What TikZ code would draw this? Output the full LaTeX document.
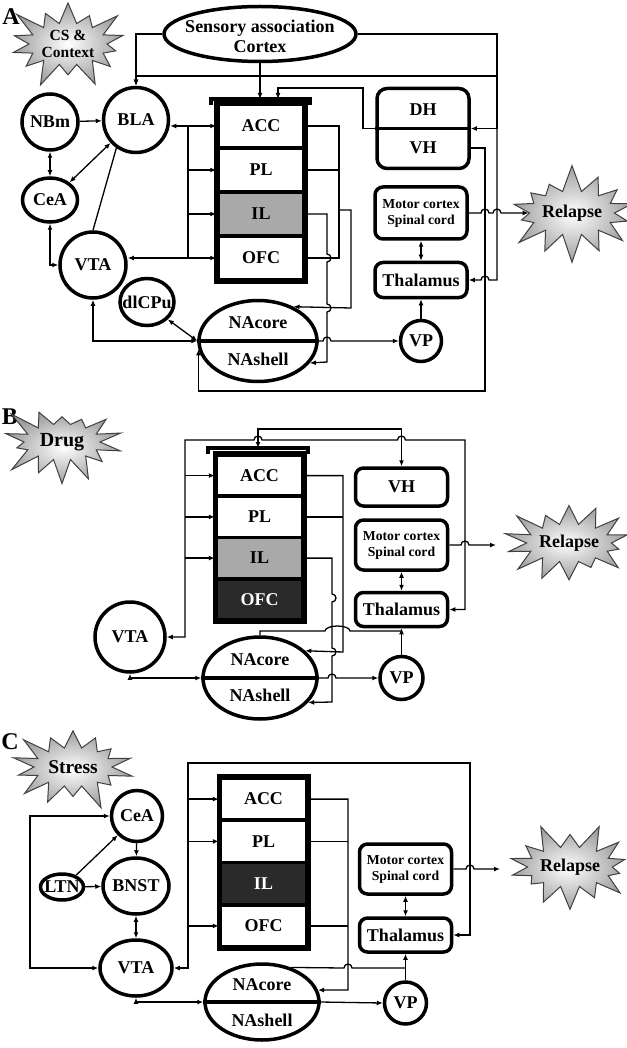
\documentclass[tikz,border=0pt]{standalone}
\usepackage{fontspec}
\setmainfont{Liberation Serif}
\usetikzlibrary{arrows.meta,shapes.geometric,shapes.symbols}
\definecolor{ilgray}{HTML}{A9A9A9}
\definecolor{offcell}{HTML}{2A2A2A}

\tikzset{
  region/.style={circle,draw,line width=3.5pt,inner sep=0pt},
  oval/.style={ellipse,draw,line width=3.5pt,inner sep=0pt},
  cell/.style={draw,line width=3.5pt,inner sep=0pt,minimum width=86pt,minimum height=#1},
  outbox/.style={draw,rounded corners=8pt,line width=3.5pt,inner sep=0pt,minimum width=92pt},
  burst/.style={starburst,starburst points=14,starburst point height=28pt,draw=black!75,
    line width=1pt,inner color=white,outer color=black!38,inner sep=0pt,align=center},
  panel/.style={font=\bfseries\fontsize{24}{24}\selectfont},
  motortext/.style={font=\bfseries\fontsize{13.7}{16}\selectfont},
}

\begin{document}
\begin{tikzpicture}[x=1pt,y=1pt,line width=1.3pt,
  font=\bfseries\fontsize{18}{20}\selectfont,>={Latex[length=6pt,width=5pt]}]
\useasboundingbox (0,0) rectangle (626,-1048);

% ---------------- A: CS & context ----------------
\node[panel] (labA) at (11,-17) {A};
\node[burst,minimum width=134pt,minimum height=98pt,font=\bfseries\fontsize{15.5}{17}\selectfont] (csA) at (68,-44) {CS \&\\Context};
\node[oval,minimum width=192pt,minimum height=55pt] (sensA) at (260,-34) {};
\node[align=center] (sensAtxt) at (260,-36) {Sensory association\\Cortex};

\node[region,minimum size=56pt] (nbmA) at (50,-122) {NBm};
\node[region,minimum size=65pt] (blaA) at (136,-120) {BLA};
\node[oval,minimum width=55pt,minimum height=44pt] (ceaA) at (50,-200) {CeA};
\node[region,minimum size=66pt] (vtaA) at (93,-265) {VTA};
\node[oval,minimum width=54pt,minimum height=47pt] (dlcpuA) at (147,-302) {\makebox[0pt]{dlCPu}};
\node[oval,minimum width=118pt,minimum height=81pt] (naA) at (258,-341) {};
\node (ncA) at (258,-323) {NAcore};
\node (nsA) at (258,-359) {NAshell};
\draw[line width=3.5pt] (naA.west) -- (naA.east);

% prefrontal stack
\node[cell=44pt] (accA) at (261,-126) {ACC};
\node[cell=44pt] (plA) at (261,-170) {PL};
\node[cell=44pt,fill=ilgray] (ilA) at (261,-214) {IL};
\node[cell=44pt] (ofcA) at (261,-258) {OFC};
\draw[line width=4.5pt] (accA.north west) rectangle (ofcA.south east);
\coordinate (brA) at (260,-99);
\draw[line width=3.5pt] (211,-105) |- (310,-99) -- (310,-105);

\node[outbox,minimum height=80pt,rounded corners=10pt] (dhvhA) at (423,-128.5) {};
\node (dhA) at (423,-110) {DH};
\node (vhA) at (423,-148) {VH};
\draw[line width=3.5pt] (dhvhA.west) -- (dhvhA.east);
\node[outbox,minimum height=52pt,motortext,align=center] (motA) at (421,-213) {Motor cortex\\Spinal cord};
\node[outbox,minimum height=35pt] (thalA) at (421,-280) {Thalamus};
\node[region,minimum size=41pt] (vpA) at (421,-341) {VP};
\node[burst,minimum width=124pt,minimum height=100pt,random starburst=7] (relA) at (572,-213) {Relapse};

% connections
\draw[->] (sensA.west) -| (blaA.north);
\draw[->] (sensA.east) -| (497,-76) -| (blaA.north);
\draw[->] (sensA.east) -| (497,-128.5) -- (dhvhA.east);
\draw[->] (sensA.east) -| (497,-280) -- (489,-280) arc[start angle=0,end angle=180,radius=4] -- (thalA.east);
\draw[->] (sensA.south) -- (brA);
\draw[->] (dhvhA.west) -- (363,-128.5) |- (278,-88) -- ([xshift=18pt]brA);
\draw[->] ([yshift=-19.5pt]dhvhA.east) -- (485,-148) -- (485,-391) -| (naA.188);

\draw[->] (nbmA) -- (blaA);
\draw[<->] (nbmA) -- (ceaA);
\draw[<->] (ceaA.42) -- (blaA.222);
\draw (vtaA.north) -- (blaA.235);
\draw[<->] (ceaA.south) |- (vtaA.west);
\draw[<->] (vtaA.south) |- (naA.west);
\draw[<->] (dlcpuA.-40) -- (naA.west);
\draw[<->] (blaA.east |- accA) -- (accA.west);
\draw[<->] (vtaA.east |- ofcA) -- (ofcA.west);
\coordinate (lbA) at (188,0);
\draw (lbA |- accA) -- (lbA |- ofcA);
\draw[->] (lbA |- plA) -- (plA.west);
\draw[->] (lbA |- ilA) -- (ilA.west);

\coordinate (rbA) at (339,0);
\draw (accA.east) -| (rbA |- ofcA) -- (ofcA.east);
\draw (plA.east) -- (rbA |- plA);
\draw[->] (339,-210) -- (351,-210) -- (351,-308) -- (naA.44);
\draw[->] (ilA.east) -- (327,-214) -- (327,-254) arc[start angle=90,end angle=-90,radius=4]
  -- (327,-304) arc[start angle=90,end angle=-90,radius=4] -- (327,-362) -- (naA.-23);
\draw[->] (naA.east) -- (323,-341) arc[start angle=180,end angle=0,radius=4] -- (vpA.west);
\draw[->] (vpA) -- (thalA);
\draw[<->] (motA) -- (thalA);
\draw[->] (motA.east) -- (481,-213) arc[start angle=180,end angle=0,radius=4]
  -- (493,-213) arc[start angle=180,end angle=0,radius=4] -- (relA.west);

% ---------------- B: drug ----------------
\node[panel] (labB) at (10,-417) {B};
\node[burst,minimum width=132pt,minimum height=92pt,font=\bfseries\fontsize{20}{20}\selectfont,random starburst=23] (drugB) at (62,-442) {Drug};
\node[cell=41.25pt] (accB) at (259.5,-475.6) {ACC};
\node[cell=41.25pt] (plB) at (259.5,-516.9) {PL};
\node[cell=41.25pt,fill=ilgray] (ilB) at (259.5,-558.1) {IL};
\node[cell=41.25pt,fill=offcell,text=white] (ofcB) at (259.5,-599.4) {OFC};
\draw[line width=4.5pt] (accB.north west) rectangle (ofcB.south east);
\coordinate (brB) at (258,-448);
\draw[line width=3.5pt] (208,-454) |- (308,-448) -- (308,-454);

\node[region,minimum size=70pt] (vtaB) at (130,-637) {VTA};
\node[oval,minimum width=114pt,minimum height=82pt] (naB) at (260,-678) {};
\node (ncB) at (260,-660) {NAcore};
\node (nsB) at (260,-695) {NAshell};
\draw[line width=3.5pt] (naB.west) -- (naB.east);
\node[outbox,minimum height=38pt] (vhB) at (401.5,-487) {VH};
\node[outbox,minimum height=50pt,motortext,align=center] (motB) at (401.5,-545) {Motor cortex\\Spinal cord};
\node[outbox,minimum height=34pt] (thalB) at (401.5,-609.5) {Thalamus};
\node[region,minimum size=43pt] (vpB) at (401.5,-678) {VP};
\node[burst,minimum width=126pt,minimum height=94pt,random starburst=41] (relB) at (569,-543) {Relapse};

\draw[<->] (vtaB.east) -| (185,-440) -- (254,-440) arc[start angle=180,end angle=0,radius=4]
  -- (397.5,-440) arc[start angle=180,end angle=0,radius=4] -- (465,-440) |- (thalB.east);
\coordinate (lbB) at (185,0);
\draw[->] (lbB |- accB) -- (accB.west);
\draw[->] (lbB |- plB) -- (plB.west);
\draw[->] (lbB |- ilB) -- (ilB.west);
\draw[<->] (brB) -- (258,-429) -| (vhB.north);
\coordinate (rbB) at (343,0);
\draw[->] (accB.east) -| (343,-652) -- (naB.31);
\draw (plB.east) -- (rbB |- plB);
\draw[->] (ilB.east) -| (332,-594) arc[start angle=90,end angle=-90,radius=4]
  -- (332,-648) arc[start angle=90,end angle=-90,radius=4] -- (332,-702) -- (naB.-27);
\coordinate (jB) at (401.5,-631);
\draw (naB.north) |- (325,-631) arc[start angle=180,end angle=0,x radius=12.5,y radius=5] -- (jB);
\draw[->] (naB.east) -- (328,-678) arc[start angle=180,end angle=0,radius=4] -- (vpB.west);
\draw[->] (vpB) -- (thalB);
\draw[<->] (motB) -- (thalB);
\draw[->] (motB.east) -- (461,-545) arc[start angle=180,end angle=0,radius=4] -- (496,-545);
\draw[<->] (vtaB.south) |- (naB.west);

% ---------------- C: stress ----------------
\node[panel] (labC) at (10,-742) {C};
\node[burst,minimum width=134pt,minimum height=95pt,font=\bfseries\fontsize{19.5}{20}\selectfont,random starburst=61] (stressC) at (73,-767) {Stress};
\node[region,minimum size=51pt] (ceaC) at (137,-816) {CeA};
\node[oval,minimum width=66pt,minimum height=56pt] (bnstC) at (136,-886) {\makebox[0pt]{BNST}};
\node[oval,minimum width=43pt,minimum height=26pt] (ltnC) at (62,-887) {\makebox[0pt]{LTN}};
\node[oval,minimum width=72pt,minimum height=56pt] (vtaC) at (136,-968) {VTA};
\node[oval,minimum width=114pt,minimum height=76pt] (naC) at (262,-1002) {};
\node (ncC) at (262,-985) {NAcore};
\node (nsC) at (262,-1020) {NAshell};
\draw[line width=3.5pt] (naC.west) -- (naC.east);

\node[cell=42.25pt] (accC) at (263.5,-799.1) {ACC};
\node[cell=42.25pt] (plC) at (263.5,-841.4) {PL};
\node[cell=42.25pt,fill=offcell,text=white] (ilC) at (263.5,-883.6) {IL};
\node[cell=42.25pt] (ofcC) at (263.5,-925.9) {OFC};
\draw[line width=4.5pt] (accC.north west) rectangle (ofcC.south east);

\node[outbox,minimum height=50pt,motortext,align=center] (motC) at (405.5,-869) {Motor cortex\\Spinal cord};
\node[outbox,minimum height=34pt] (thalC) at (405.5,-935) {Thalamus};
\node[region,minimum size=42pt] (vpC) at (405.5,-1003) {VP};
\node[burst,minimum width=128pt,minimum height=96pt,random starburst=88] (relC) at (570,-867) {Relapse};

\draw[->] (ceaC) -- (bnstC);
\draw[->] (ltnC.40) -- (ceaC.225);
\draw[->] (ltnC) -- (bnstC);
\draw[<->] (bnstC) -- (vtaC);
\draw[<->] (ceaC.west) -| (30,-890) |- (vtaC.west);
\draw[<->] (vtaC.east) -| (188,-763) -- (470,-763) |- (thalC.east);
\coordinate (lbC) at (188,0);
\draw[->] (lbC |- accC) -- (accC.west);
\draw[->] (lbC |- plC) -- (plC.west);
\draw[->] (lbC |- ofcC) -- (ofcC.west);
\coordinate (rbC) at (348,0);
\draw[->] (accC.east) -| (348,-990) -- (naC.12);
\draw (plC.east) -- (rbC |- plC);
\draw (ofcC.east) -- (rbC |- ofcC);
\coordinate (jC) at (405.5,-968);
\draw (naC.50) -- (344,-968) arc[start angle=180,end angle=0,radius=4] -- (jC);
\draw[->] (naC.east) -- (vpC.west);
\draw[->] (vpC) -- (thalC);
\draw[<->] (motC) -- (thalC);
\draw[->] (motC.east) -- (466,-869) arc[start angle=180,end angle=0,radius=4] -- (500,-869);
\draw[<->] (vtaC.south) |- (naC.west);
\end{tikzpicture}
\end{document}
